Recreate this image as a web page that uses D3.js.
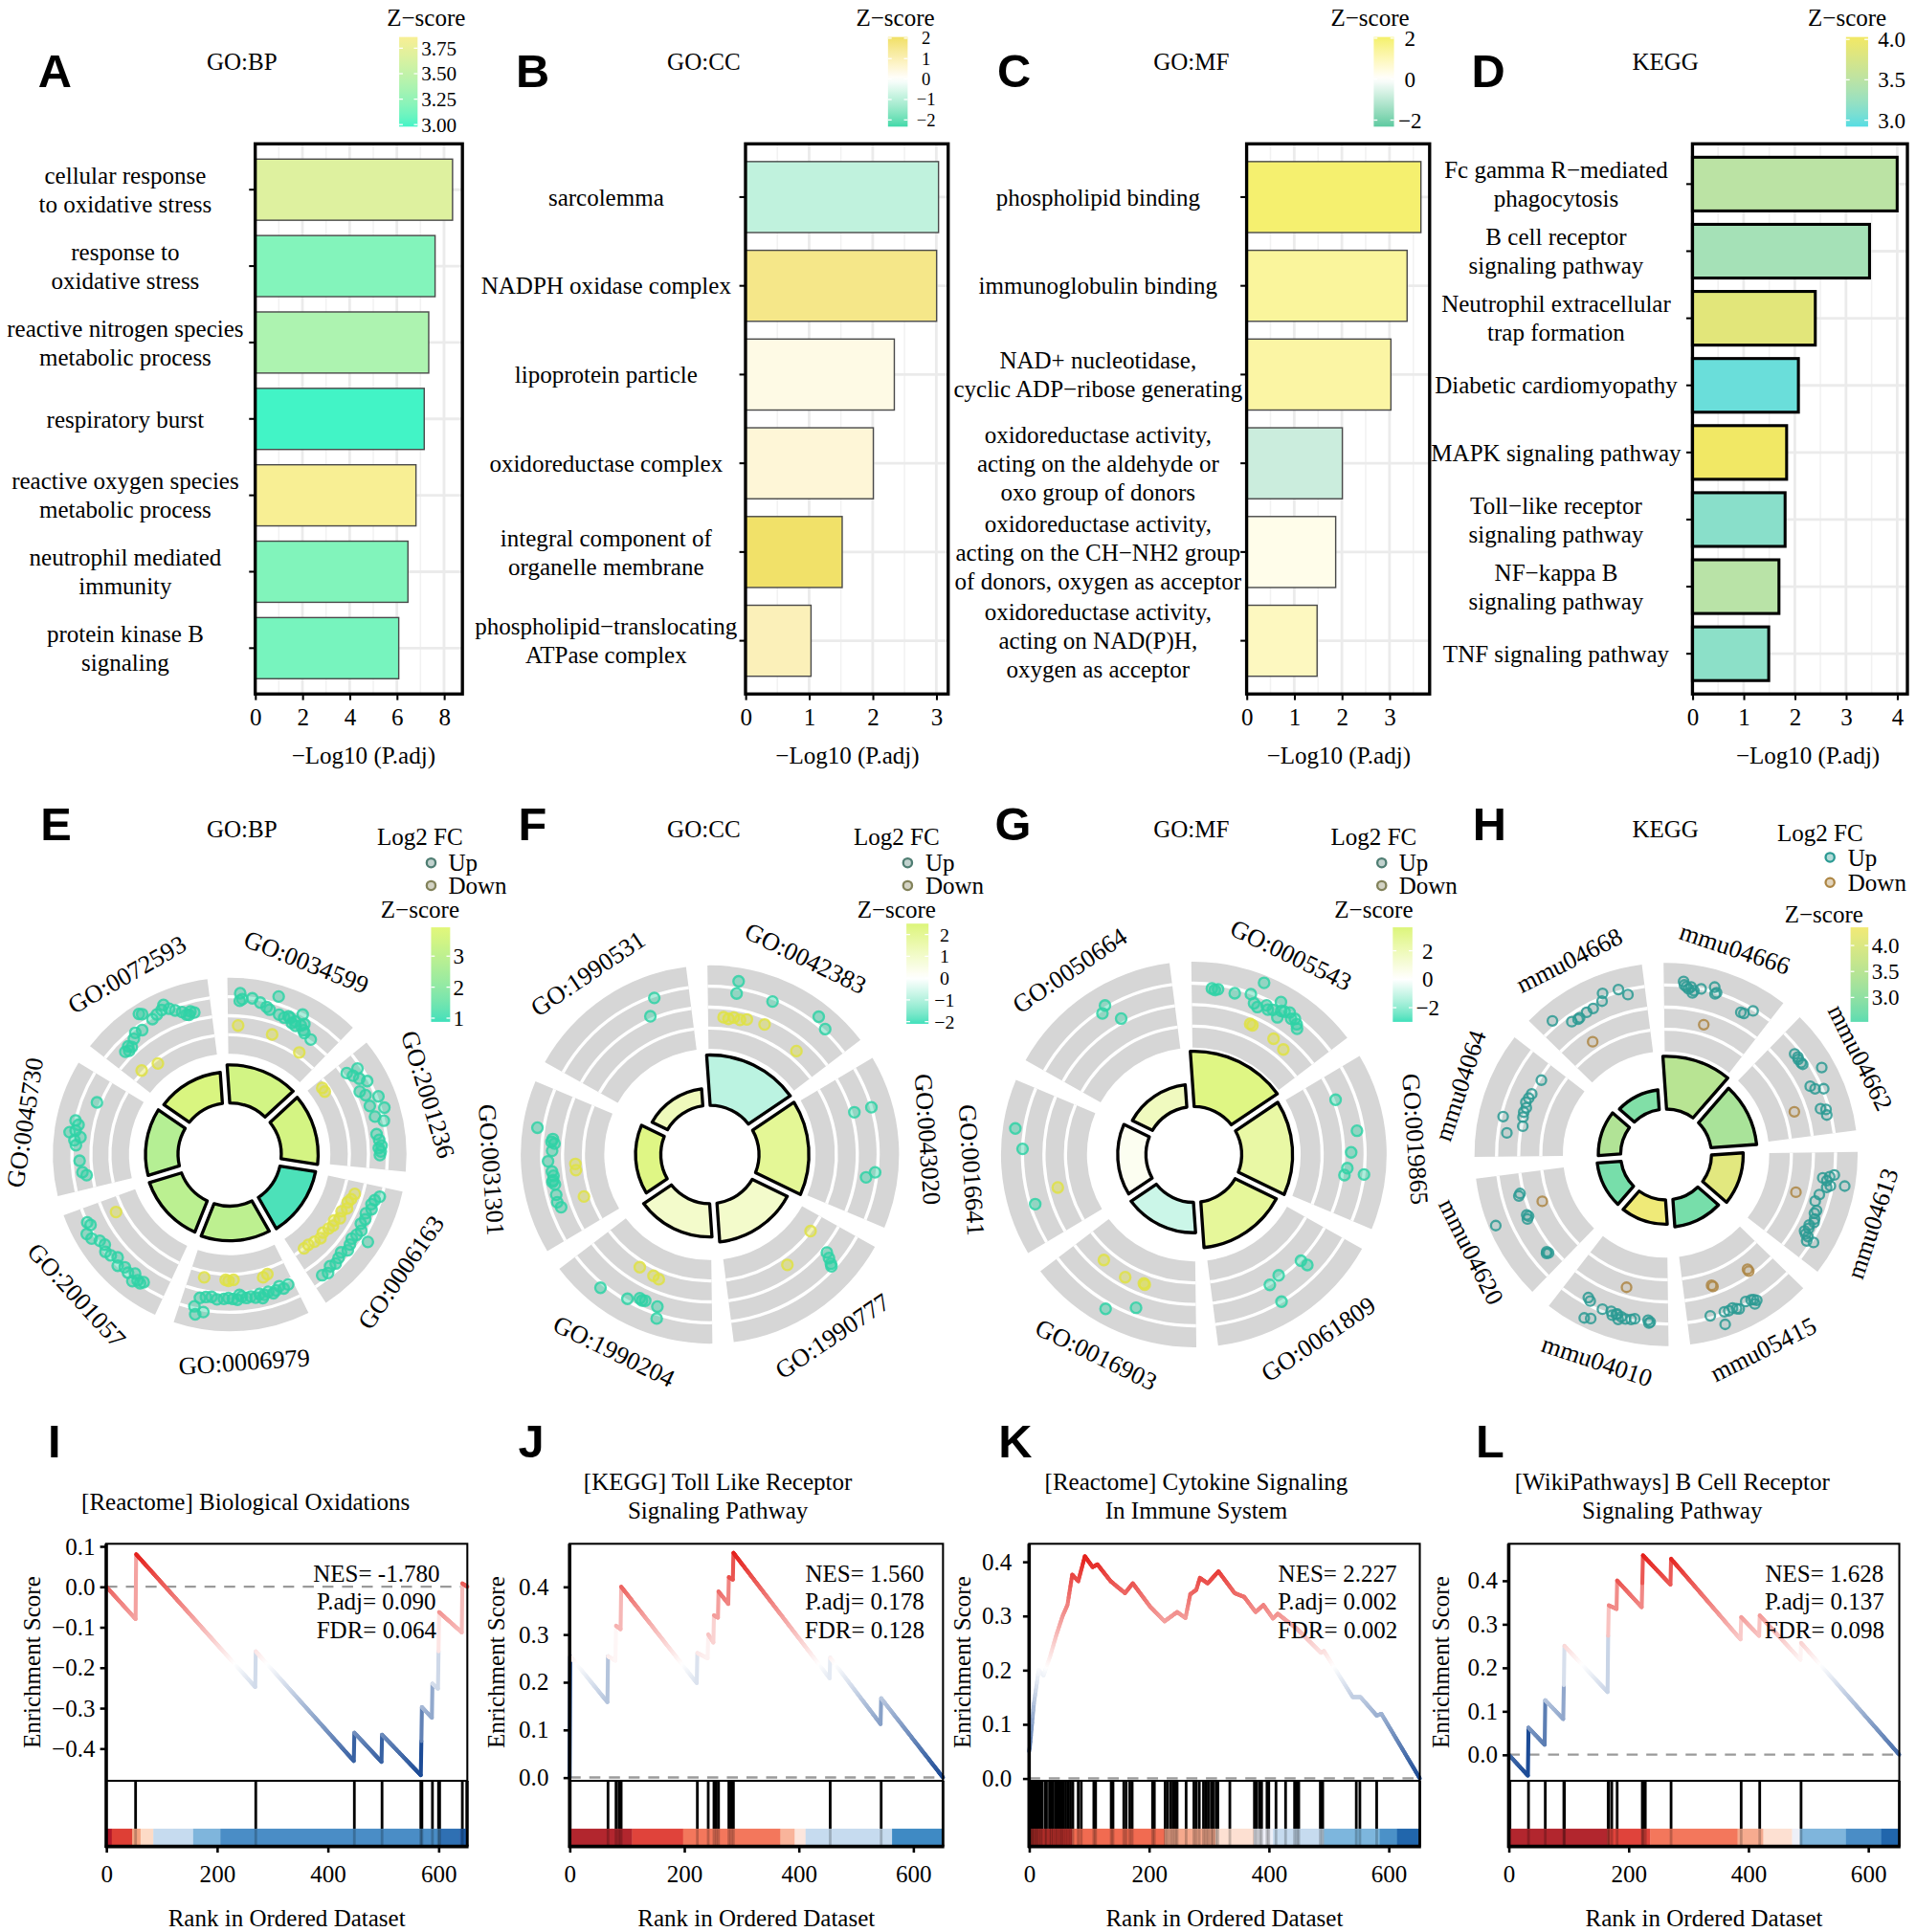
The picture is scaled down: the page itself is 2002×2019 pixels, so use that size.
<!DOCTYPE html>
<html>
<head>
<meta charset="utf-8">
<title>Enrichment overview</title>
<script src="https://cdn.jsdelivr.net/npm/d3@7"></script>
<style>
  html, body { margin: 0; padding: 0; background: #fff; }
  svg { display: block; }
  text { font-family: 'Liberation Serif', 'Times New Roman', serif; fill: #000; }
  text.letter { font-family: 'Liberation Sans', Arial, sans-serif; font-weight: bold; }
</style>
</head>
<body>
<div id="chart"></div>
<script>
'use strict';
/* globals d3 */

// ---------------- row 1: enrichment bar charts ----------------
var bpTerms = ['cellular response\nto oxidative stress', 'response to\noxidative stress',
    'reactive nitrogen species\nmetabolic process', 'respiratory burst',
    'reactive oxygen species\nmetabolic process', 'neutrophil mediated\nimmunity',
    'protein kinase B\nsignaling'];
var bpLogP = [8.36, 7.62, 7.35, 7.16, 6.81, 6.47, 6.08];
var bpZ = [3.68, 3.18, 3.38, 2.98, 3.86, 3.17, 3.13];

var ccTerms = ['sarcolemma', 'NADPH oxidase complex', 'lipoprotein particle',
    'oxidoreductase complex', 'integral component of\norganelle membrane',
    'phospholipid\u2212translocating\nATPase complex'];
var ccLogP = [3.035, 3.005, 2.34, 2.01, 1.52, 1.03];
var ccZ = [-0.9, 1.6, 0.35, 0.55, 2.0, 0.95];

var mfTerms = ['phospholipid binding', 'immunoglobulin binding',
    'NAD+ nucleotidase,\ncyclic ADP\u2212ribose generating',
    'oxidoreductase activity,\nacting on the aldehyde or\noxo group of donors',
    'oxidoreductase activity,\nacting on the CH\u2212NH2 group\nof donors, oxygen as acceptor',
    'oxidoreductase activity,\nacting on NAD(P)H,\noxygen as acceptor'];
var mfLogP = [3.66, 3.37, 3.03, 2.01, 1.87, 1.48];
var mfZ = [2.0, 1.4, 1.3, -0.8, 0.3, 0.9];

var keggTerms = ['Fc gamma R\u2212mediated\nphagocytosis', 'B cell receptor\nsignaling pathway',
    'Neutrophil extracellular\ntrap formation', 'Diabetic cardiomyopathy',
    'MAPK signaling pathway', 'Toll\u2212like receptor\nsignaling pathway',
    'NF\u2212kappa B\nsignaling pathway', 'TNF signaling pathway'];
var keggLogP = [4.0, 3.46, 2.40, 2.07, 1.84, 1.81, 1.69, 1.49];
var keggZ = [3.5, 3.33, 3.86, 3.0, 4.02, 3.15, 3.48, 3.17];

// ---------------- row 2: GO circles ----------------
var eIds = ['GO:0034599', 'GO:2001236', 'GO:0006163', 'GO:0006979', 'GO:2001057', 'GO:0045730', 'GO:0072593'];
var eLogP = [8.36, 8.1, 7.9, 7.62, 7.35, 7.16, 6.81];
var eZ = [3.5, 3.55, 1.0, 3.0, 2.95, 2.8, 3.7];
var eUp = [
    [[0.1,1.2],[0.1,0.8],[0.12,0.9],[0.2,1.0],[0.27,0.85],[0.33,0.7],[0.36,0.6],[0.4,1.4],[0.45,0.5],[0.5,0.45],[0.53,0.6],[0.58,0.35],[0.6,0.5],[0.63,1.0],[0.62,0.3],[0.66,0.45],[0.7,0.3],[0.72,0.2],[0.8,0.1],[0.55,0.55],[0.68,0.6]],
    [[0.1,0.2],[0.15,0.4],[0.2,0.6],[0.12,0.8],[0.25,0.9],[0.3,0.3],[0.35,0.5],[0.45,0.5],[0.55,0.6],[0.5,1.2],[0.6,1.0],[0.7,0.5],[0.75,0.6],[0.8,0.7],[0.82,0.55],[0.85,0.65],[0.88,0.6],[0.4,1.1]],
    [[0.08,0.9],[0.12,0.7],[0.16,0.6],[0.2,0.7],[0.25,0.5],[0.3,0.6],[0.35,0.5],[0.4,0.7],[0.45,0.6],[0.5,0.5],[0.55,0.6],[0.6,0.7],[0.65,0.5],[0.7,0.6],[0.75,0.7],[0.8,0.6],[0.85,0.8],[0.9,0.7],[0.45,1.3]],
    [[0.05,0.2],[0.1,0.3],[0.13,0.1],[0.17,0.25],[0.2,0.35],[0.24,0.2],[0.28,0.3],[0.32,0.2],[0.36,0.35],[0.4,0.25],[0.44,0.3],[0.48,0.2],[0.52,0.35],[0.56,0.3],[0.6,0.25],[0.64,0.3],[0.7,0.35],[0.75,0.25],[0.8,0.3],[0.85,0.4],[0.8,1.1],[0.86,1.3],[0.88,0.9],[0.3,0.45],[0.5,0.1]],
    [[0.2,0.8],[0.25,0.9],[0.3,0.7],[0.28,1.1],[0.35,0.9],[0.4,0.8],[0.45,1.0],[0.5,0.7],[0.55,0.9],[0.6,1.0],[0.65,0.8],[0.7,0.9],[0.75,1.2],[0.8,1.3],[0.85,0.9],[0.88,1.0],[0.22,0.95]],
    [[0.78,0.2],[0.58,1.0],[0.55,0.8],[0.5,0.9],[0.48,1.2],[0.45,0.6],[0.42,0.9],[0.38,0.8],[0.25,0.6],[0.15,0.5],[0.12,0.3]],
    [[0.15,0.4],[0.18,0.3],[0.2,0.5],[0.22,0.35],[0.28,0.6],[0.32,0.8],[0.38,0.7],[0.43,1.5],[0.45,1.4],[0.5,0.9],[0.55,1.0],[0.6,1.1],[0.63,1.3],[0.66,1.0],[0.7,0.8],[0.75,0.6],[0.78,0.4],[0.8,0.35],[0.82,0.5],[0.85,0.4]]
];
var eDown = [
    [[0.1,-0.5],[0.45,-0.6],[0.78,-0.8]],
    [[0.08,-1.3],[0.13,-1.3]],
    [[0.12,-0.4],[0.18,-0.5],[0.22,-0.6],[0.28,-0.5],[0.33,-0.7],[0.4,-0.6],[0.45,-0.8],[0.5,-0.7],[0.55,-0.8],[0.62,-0.9],[0.68,-0.8],[0.75,-0.9],[0.82,-1.0],[0.88,-1.0]],
    [[0.2,-0.7],[0.25,-0.6],[0.55,-0.7],[0.6,-0.65],[0.63,-0.7],[0.85,-0.7]],
    [[0.85,-0.6]],
    [],
    [[0.13,-0.9],[0.31,-1.2]]
];

var fIds = ['GO:0042383', 'GO:0043020', 'GO:1990777', 'GO:1990204', 'GO:0031301', 'GO:1990531'];
var fLogP = [3.035, 3.005, 2.34, 2.01, 1.52, 1.03];
var fZ = [-0.9, 2.0, 1.0, 1.0, 2.3, 1.3];
var fUp = [
    [[0.19,1.35],[0.19,0.76],[0.43,0.86],[0.73,1.35],[0.81,1.1]],
    [[0.27,0.15],[0.27,1.0],[0.73,0.5],[0.69,0.9]],
    [[0.2,0.25],[0.22,0.5],[0.24,0.75],[0.25,0.85]],
    [[0.75,1.2],[0.57,0.9],[0.5,0.6],[0.48,0.65],[0.46,0.6],[0.37,0.65],[0.35,1.2]],
    [[0.74,1.3],[0.68,0.5],[0.66,0.55],[0.65,0.4],[0.6,0.5],[0.53,0.7],[0.46,0.55],[0.43,0.5],[0.4,0.55],[0.37,0.5],[0.3,0.55],[0.25,0.6],[0.21,0.5],[0.39,0.6]],
    [[0.77,0.9],[0.7,0.15]]
];
var fDown = [
    [[0.12,-0.45],[0.16,-0.5],[0.2,-0.4],[0.25,-0.45],[0.3,-0.35],[0.44,-0.3],[0.76,-0.6]],
    [],
    [[0.15,-1.0],[0.48,-0.6]],
    [[0.61,-0.7],[0.48,-0.65],[0.43,-0.6]],
    [[0.5,-0.6],[0.45,-0.6],[0.23,-0.7]],
    []
];

var gIds = ['GO:0005543', 'GO:0019865', 'GO:0061809', 'GO:0016903', 'GO:0016641', 'GO:0050664'];
var gLogP = [3.66, 3.37, 3.03, 2.01, 1.87, 1.48];
var gZ = [3.4, 2.5, 2.8, -1.0, 0.4, 1.8];
var gUp = [
    [[0.13,0.8],[0.15,0.75],[0.17,0.8],[0.28,0.77],[0.43,1.66],[0.38,0.95],[0.42,0.6],[0.45,0.5],[0.5,0.75],[0.52,0.6],[0.57,1.2],[0.6,0.85],[0.62,0.9],[0.65,1.0],[0.68,0.8],[0.7,0.9],[0.73,0.75],[0.75,0.6],[0.55,0.7],[0.6,0.5]],
    [[0.18,0.1],[0.42,0.7],[0.56,0.35],[0.67,0.2],[0.72,0.1],[0.7,1.0]],
    [[0.29,0.05],[0.28,0.4],[0.48,-0.1],[0.57,0.05],[0.56,1.0]],
    [[0.57,1.3],[0.4,0.65]],
    [[0.73,1.42],[0.61,1.0],[0.25,0.76]],
    [[0.56,1.1],[0.52,0.85],[0.61,0.2]]
];
var gDown = [
    [[0.45,-0.35],[0.47,-0.37],[0.66,-0.43],[0.77,-0.55]],
    [],
    [],
    [[0.77,-0.52],[0.56,-0.43],[0.41,-0.54],[0.4,-0.5]],
    [[0.32,-0.46]],
    []
];

var hIds = ['mmu04666', 'mmu04662', 'mmu04613', 'mmu05415', 'mmu04010', 'mmu04620', 'mmu04064', 'mmu04668'];
var hLogP = [4.0, 3.46, 2.40, 2.07, 1.84, 1.81, 1.69, 1.49];
var hZ = [3.5, 3.3, 4.1, 2.75, 4.3, 2.75, 3.4, 2.85];
var hUp = [
    [[0.17,1.2],[0.18,1.05],[0.2,0.98],[0.22,0.9],[0.24,1.0],[0.26,0.74],[0.27,0.85],[0.33,0.99],[0.44,1.22],[0.46,0.93],[0.47,1.0],[0.74,0.6],[0.77,0.62],[0.83,0.93]],
    [[0.2,0.72],[0.24,0.75],[0.26,0.7],[0.3,0.72],[0.32,0.74],[0.43,1.4],[0.53,0.55],[0.57,0.7],[0.6,1.06],[0.76,0.62],[0.78,0.85],[0.83,0.82]],
    [[0.2,1.0],[0.22,0.8],[0.24,0.5],[0.26,0.7],[0.28,1.54],[0.3,0.9],[0.32,0.75],[0.4,0.5],[0.47,0.4],[0.55,0.6],[0.58,0.55],[0.63,0.66],[0.66,0.7],[0.7,0.55],[0.73,0.6],[0.77,0.49],[0.79,0.6],[0.82,1.1],[0.84,0.8],[0.8,0.75]],
    [[0.36,1.1],[0.38,1.0],[0.39,1.2],[0.4,0.95],[0.45,0.9],[0.53,1.06],[0.58,0.9],[0.62,0.95],[0.66,0.92],[0.69,1.47],[0.79,0.9],[0.55,1.0]],
    [[0.76,0.7],[0.73,0.8],[0.71,1.6],[0.66,1.5],[0.6,0.9],[0.52,0.85],[0.5,1.0],[0.47,0.9],[0.46,0.88],[0.44,1.1],[0.42,0.95],[0.38,1.0],[0.33,0.96],[0.3,0.9],[0.18,0.87],[0.16,0.95],[0.17,1.0]],
    [[0.8,0.17],[0.78,0.25],[0.6,1.68],[0.58,0.2],[0.56,0.15],[0.54,0.25],[0.15,0.27],[0.17,0.3],[0.16,0.35]],
    [[0.82,-0.1],[0.65,0.0],[0.6,0.05],[0.55,0.1],[0.5,0.0],[0.45,0.05],[0.36,0.9],[0.22,0.6],[0.31,-0.06],[0.4,0.02]],
    [[0.14,1.27],[0.27,0.7],[0.33,0.63],[0.35,0.65],[0.43,0.7],[0.5,0.72],[0.63,1.17],[0.6,0.85],[0.77,1.1],[0.84,0.77]]
];
var hDown = [
    [[0.44,-0.55]],
    [[0.71,-0.55]],
    [[0.44,-0.55]],
    [[0.27,-0.2],[0.27,-0.3],[0.68,-0.33],[0.69,-0.4]],
    [[0.45,-0.4]],
    [[0.65,-0.68]],
    [],
    [[0.33,-0.58]]
];

// ---------------- row 3: GSEA running scores ----------------
var iTitle = ['[Reactome] Biological Oxidations'];
var iStats = ['NES= -1.780', 'P.adj= 0.090', 'FDR= 0.064'];
var iCurve = [[0,0],[53,-0.08],[54,0.08],[269,-0.248],[270,-0.16],[447,-0.431],[448,-0.361],[497,-0.433],[498,-0.366],[568,-0.466],[569,-0.382],[570,-0.298],[588,-0.324],[589,-0.24],[599,-0.252],[600,-0.16],[601,-0.063],[642,-0.113],[643,0.008],[652,0.0]];
var iHits = [53, 270, 448, 498, 568, 570, 589, 600, 602, 643, 651];
var iBarBreaks = [0, 10, 47, 62, 85, 157, 206, 603, 638, 652];
var iBarColors = ['#b2182b', '#de3f35', '#f4a582', '#fddbc7', '#c6dbef', '#7fb5dc', '#4a8dc6', '#2f70b3', '#1d5aa5'];

var jTitle = ['[KEGG] Toll Like Receptor', 'Signaling Pathway'];
var jStats = ['NES= 1.560', 'P.adj= 0.178', 'FDR= 0.128'];
var jCurve = [[0,0],[1,0.254],[66,0.158],[67,0.254],[80,0.245],[81,0.318],[89,0.311],[90,0.40],[222,0.198],[223,0.261],[241,0.25],[242,0.30],[251,0.283],[252,0.34],[259,0.335],[260,0.39],[277,0.364],[278,0.42],[285,0.415],[286,0.471],[454,0.208],[455,0.251],[543,0.112],[544,0.166],[652,0]];
var jHits = [1, 67, 81, 86, 90, 223, 242, 252, 256, 260, 278, 282, 286, 455, 544];
var jBarBreaks = [0, 109, 198, 368, 393, 412, 563, 652];
var jBarColors = ['#b2262e', '#e0433b', '#f3775c', '#f9b49b', '#fce6dd', '#c6dbef', '#3f8ac4'];

var kTitle = ['[Reactome] Cytokine Signaling', 'In Immune System'];
var kStats = ['NES= 2.227', 'P.adj= 0.002', 'FDR= 0.002'];
var kCurve = [[0,0.05],[1,0.056],[8,0.138],[16,0.2],[24,0.19],[35,0.225],[45,0.263],[56,0.30],[64,0.32],[72,0.376],[82,0.364],[93,0.41],[106,0.39],[114,0.395],[136,0.364],[160,0.342],[173,0.36],[202,0.317],[226,0.29],[247,0.307],[261,0.296],[269,0.34],[279,0.348],[285,0.37],[298,0.36],[316,0.382],[343,0.342],[359,0.335],[378,0.307],[391,0.32],[407,0.295],[415,0.304],[447,0.276],[487,0.232],[492,0.235],[540,0.15],[553,0.15],[580,0.116],[588,0.119],[652,0]];
var kHits = [2,4,6,8,11,13,16,19,22,27,29,34,37,40,44,47,51,54,57,61,65,69,73,82,87,108,111,137,140,158,162,168,172,206,209,227,231,236,240,244,247,262,275,279,284,291,295,299,304,307,312,315,335,376,380,385,388,397,400,412,428,443,447,450,486,490,546,552,580];
var kBarBreaks = [0, 72, 226, 311, 375, 407, 492, 585, 614, 652];
var kBarColors = ['#cf3530', '#f16b51', '#f5a98d', '#fde0d2', '#eef0f8', '#c6dbef', '#7db6dd', '#4b91c8', '#2166ac'];

var lTitle = ['[WikiPathways] B Cell Receptor', 'Signaling Pathway'];
var lStats = ['NES= 1.628', 'P.adj= 0.137', 'FDR= 0.098'];
var lCurve = [[0,0],[32,-0.048],[33,0.062],[60,0.023],[61,0.125],[91,0.082],[92,0.16],[93,0.25],[165,0.144],[166,0.273],[167,0.343],[180,0.335],[181,0.40],[222,0.339],[223,0.394],[224,0.458],[270,0.391],[271,0.45],[387,0.265],[388,0.316],[418,0.273],[419,0.32],[487,0.218],[488,0.257],[652,0]];
var lHits = [2, 33, 61, 92, 93, 166, 167, 172, 181, 223, 224, 228, 271, 388, 419, 488];
var lBarBreaks = [0, 164, 236, 382, 425, 473, 486, 563, 622, 652];
var lBarColors = ['#b2262e', '#e0433b', '#f3775c', '#f6ab8f', '#fde0d2', '#eef0f8', '#7fb5dc', '#4a8dc6', '#2166ac'];

var gseaRankMax = 652;
var gseaRankTicks = [0, 200, 400, 600];

(function(){

var FS = 19.5;
var svg = d3.select('#chart').append('svg')
    .attr('width', 2002).attr('height', 2019)
    .attr('viewBox', '0 0 1560 1573');
var defs = svg.append('defs');
svg.append('rect').attr('width', 1560).attr('height', 1573).attr('fill', '#fff');

/**
 * Centered text block, one tspan per line
 */
function multiline(g, str, x, yc, lh){
    var lines = str.split('\n');
    var t = g.append('text').attr('text-anchor', 'middle').attr('font-size', FS);
    lines.forEach(function(l, i){
        t.append('tspan').attr('x', x)
            .attr('y', yc + (i - (lines.length - 1) / 2) * lh)
            .attr('dy', '0.35em').text(l);
    });
    return t;
}

function letter(txt, x, y){
    svg.append('text').attr('class', 'letter').attr('x', x).attr('y', y)
        .attr('font-size', 38).text(txt);
}

/**
 * Vertical colorbar legend with white tick marks
 */
function colorbar(o){
    var grad = defs.append('linearGradient').attr('id', o.id)
        .attr('x1', 0).attr('y1', 1).attr('x2', 0).attr('y2', 0);
    d3.range(0, 1.0001, 0.05).forEach(function(f){
        grad.append('stop').attr('offset', f)
            .attr('stop-color', o.color(o.domain[0] + f * (o.domain[1] - o.domain[0])));
    });
    svg.append('rect').attr('x', o.x).attr('y', o.y0).attr('width', o.w)
        .attr('height', o.y1 - o.y0).attr('fill', 'url(#' + o.id + ')');
    var s = d3.scaleLinear().domain(o.domain).range([o.y1, o.y0]);
    o.ticks.forEach(function(t){
        svg.append('line').attr('x1', o.x).attr('x2', o.x + 3).attr('y1', s(t)).attr('y2', s(t))
            .attr('stroke', '#fff').attr('stroke-width', 1);
        svg.append('line').attr('x1', o.x + o.w - 3).attr('x2', o.x + o.w).attr('y1', s(t)).attr('y2', s(t))
            .attr('stroke', '#fff').attr('stroke-width', 1);
        svg.append('text').attr('x', o.labelX).attr('y', s(t)).attr('dy', '0.35em')
            .attr('text-anchor', o.anchor).attr('font-size', o.fs || 18).text(o.fmt(t));
    });
    svg.append('text').attr('x', o.titleX).attr('y', o.titleY).attr('dy', '0.35em')
        .attr('text-anchor', 'middle').attr('font-size', FS).text('Z\u2212score');
}

function makeColor(domain, colors){
    return d3.scaleLinear().domain(domain).range(colors).interpolate(d3.interpolateLab).clamp(true);
}

var fmtInt = d3.format('d');

// ============ bar panels ============
var BAR_TOP = 117, BAR_BOTTOM = 565;

function drawBarPanel(o){
    var g = svg.append('g');
    var xMax = d3.max(o.values) * 1.05;
    var x = d3.scaleLinear().domain([0, xMax]).range([o.x0, o.x1]);
    var y = d3.scaleBand().domain(o.terms).range([BAR_TOP, BAR_BOTTOM])
        .paddingInner(0.2).paddingOuter(0.2);
    var step = o.ticks[1] - o.ticks[0];
    var minor = o.ticks.map(function(t){ return t + step / 2; })
        .filter(function(t){ return t < xMax; });

    g.selectAll('line.minor').data(minor).enter().append('line')
        .attr('x1', x).attr('x2', x).attr('y1', BAR_TOP).attr('y2', BAR_BOTTOM)
        .attr('stroke', '#f2f2f2').attr('stroke-width', 1.2);
    g.selectAll('line.major').data(o.ticks).enter().append('line')
        .attr('x1', x).attr('x2', x).attr('y1', BAR_TOP).attr('y2', BAR_BOTTOM)
        .attr('stroke', '#ebebeb').attr('stroke-width', 2.2);
    g.selectAll('line.hgrid').data(o.terms).enter().append('line')
        .attr('x1', o.x0).attr('x2', o.x1)
        .attr('y1', function(d){ return y(d) + y.bandwidth() / 2; })
        .attr('y2', function(d){ return y(d) + y.bandwidth() / 2; })
        .attr('stroke', '#ebebeb').attr('stroke-width', 2.2);

    g.selectAll('rect.bar').data(o.terms).enter().append('rect')
        .attr('x', x(0)).attr('y', function(d){ return y(d); })
        .attr('width', function(d, i){ return x(o.values[i]) - x(0); })
        .attr('height', y.bandwidth())
        .attr('fill', function(d, i){ return o.color(o.z[i]); })
        .attr('stroke', o.barStroke).attr('stroke-width', o.barStrokeW);

    g.append('rect').attr('x', o.x0).attr('y', BAR_TOP)
        .attr('width', o.x1 - o.x0).attr('height', BAR_BOTTOM - BAR_TOP)
        .attr('fill', 'none').attr('stroke', '#000').attr('stroke-width', 2.6);

    // y ticks and term labels
    o.terms.forEach(function(d){
        var yc = y(d) + y.bandwidth() / 2;
        g.append('line').attr('x1', o.x0 - 5).attr('x2', o.x0).attr('y1', yc).attr('y2', yc)
            .attr('stroke', '#000').attr('stroke-width', 1.6);
        multiline(g, d, o.labelX, yc, 23.4);
    });

    var ax = g.append('g').attr('transform', 'translate(0,' + BAR_BOTTOM + ')')
        .call(d3.axisBottom(x).tickValues(o.ticks).tickSize(5).tickPadding(7).tickFormat(fmtInt));
    ax.select('.domain').remove();
    ax.attr('font-family', null).attr('font-size', null);
    ax.selectAll('line').attr('stroke-width', 1.6);
    ax.selectAll('text').attr('font-size', FS);

    g.append('text').attr('x', o.axisTitleX).attr('y', 622).attr('text-anchor', 'middle')
        .attr('font-size', FS).text('\u2212Log10 (P.adj)');
    g.append('text').attr('x', o.titleX).attr('y', 57).attr('text-anchor', 'middle')
        .attr('font-size', FS).text(o.title);
    letter(o.letter, o.letterX, 71);
    colorbar(o.legend);
}

var aColor = makeColor([2.98, 3.86], ['#42f4c6', '#f8ef94']);
drawBarPanel({
    terms: bpTerms, values: bpLogP, z: bpZ, color: aColor,
    x0: 207.8, x1: 376.5, ticks: [0, 2, 4, 6, 8], labelX: 102,
    barStroke: '#4a4a4a', barStrokeW: 1.1,
    axisTitleX: 296, titleX: 197, title: 'GO:BP', letter: 'A', letterX: 31,
    legend: { id: 'cbA', color: aColor, domain: [2.98, 3.86], x: 325, w: 15, y0: 30, y1: 103,
        ticks: [3.0, 3.25, 3.5, 3.75], fmt: d3.format('.2f'), labelX: 343, anchor: 'start',
        titleX: 347, titleY: 14, fs: 16.5 }
});

var bColor = makeColor([-2.33, 0, 2.06], ['#3fd9a9', '#ffffff', '#f0e064']);
drawBarPanel({
    terms: ccTerms, values: ccLogP, z: ccZ, color: bColor,
    x0: 607, x1: 772, ticks: [0, 1, 2, 3], labelX: 493.5,
    barStroke: '#4a4a4a', barStrokeW: 1.1,
    axisTitleX: 690, titleX: 573, title: 'GO:CC', letter: 'B', letterX: 420,
    legend: { id: 'cbB', color: bColor, domain: [-2.33, 2.06], x: 723, w: 16, y0: 30, y1: 103,
        ticks: [-2, -1, 0, 1, 2], fmt: d3.format('d'), labelX: 754, anchor: 'middle',
        titleX: 729, titleY: 14, fs: 14.5 }
});

var cColor = makeColor([-2.32, 0, 2.06], ['#5ccaa0', '#ffffff', '#f4f06a']);
drawBarPanel({
    terms: mfTerms, values: mfLogP, z: mfZ, color: cColor,
    x0: 1015, x1: 1164, ticks: [0, 1, 2, 3], labelX: 894,
    barStroke: '#4a4a4a', barStrokeW: 1.1,
    axisTitleX: 1090, titleX: 970, title: 'GO:MF', letter: 'C', letterX: 812,
    legend: { id: 'cbC', color: cColor, domain: [-2.32, 2.06], x: 1118.5, w: 16.5, y0: 30, y1: 103,
        ticks: [-2, 0, 2], fmt: d3.format('d'), labelX: 1148, anchor: 'middle',
        titleX: 1115.5, titleY: 14 }
});

var dColor = makeColor([2.92, 4.03], ['#54dde3', '#f2e864']);
drawBarPanel({
    terms: keggTerms, values: keggLogP, z: keggZ, color: dColor,
    x0: 1378, x1: 1553, ticks: [0, 1, 2, 3, 4], labelX: 1267,
    barStroke: '#000', barStrokeW: 2.4,
    axisTitleX: 1472, titleX: 1356, title: 'KEGG', letter: 'D', letterX: 1198,
    legend: { id: 'cbD', color: dColor, domain: [2.92, 4.03], x: 1503, w: 18, y0: 30, y1: 103,
        ticks: [3.0, 3.5, 4.0], fmt: d3.format('.1f'), labelX: 1529, anchor: 'start',
        titleX: 1504, titleY: 14 }
});

// ============ circle panels ============
var CY = 940;
var DEG = Math.PI / 180;

function drawCirclePanel(o){
    var g = svg.append('g').attr('transform', 'translate(' + o.cx + ',' + CY + ')');
    var n = o.ids.length, step = 2 * Math.PI / n, off = -4 * DEG;
    var gapT = 6.5 * DEG;
    var h = d3.scaleLinear().domain([0, d3.max(o.heights)]).range([o.rIn, o.rBarMax]);
    var r = d3.scaleLinear().domain([-2, 2]).range([o.trackIn, o.trackOut]);
    var arc = d3.arc();

    o.ids.forEach(function(id, i){
        var a0 = off + i * step, a1 = a0 + step;
        var t0 = a0 + gapT / 2, t1 = a1 - gapT / 2;
        g.append('path').attr('d', arc({ innerRadius: o.trackIn, outerRadius: o.trackOut,
            startAngle: t0, endAngle: t1 })).attr('fill', '#d6d6d6');
        [-1, 0, 1].forEach(function(v){
            g.append('path').attr('d', arc({ innerRadius: r(v) - 1.3, outerRadius: r(v) + 1.3,
                startAngle: t0, endAngle: t1 })).attr('fill', '#fff');
        });
        var pts = o.down[i].map(function(p){ return [p[0], p[1], 'down']; })
            .concat(o.up[i].map(function(p){ return [p[0], p[1], 'up']; }));
        pts.forEach(function(p){
            var a = t0 + p[0] * (t1 - t0), rr = r(p[1]);
            var c = p[2] === 'up' ? o.upColor : o.downColor;
            g.append('circle').attr('cx', rr * Math.sin(a)).attr('cy', -rr * Math.cos(a))
                .attr('r', o.ptR).attr('fill', c).attr('fill-opacity', o.ptFill)
                .attr('stroke', c).attr('stroke-opacity', 0.85).attr('stroke-width', 1.8);
        });
    });

    o.ids.forEach(function(id, i){
        var a0 = off + i * step, a1 = a0 + step;
        g.append('path').attr('d', d3.arc().padAngle(0.1).padRadius(60)({
            innerRadius: o.rIn, outerRadius: h(o.heights[i]), startAngle: a0, endAngle: a1 }))
            .attr('fill', o.color(o.z[i])).attr('stroke', '#000').attr('stroke-width', 2.6)
            .attr('stroke-linejoin', 'round');

        var mid = a0 + step / 2;
        var deg = ((mid / DEG) % 360 + 360) % 360;
        var rot = (deg > 90 && deg < 270) ? deg - 180 : deg;
        g.append('text')
            .attr('transform', 'translate(' + (o.labelR * Math.sin(mid)) + ',' +
                (-o.labelR * Math.cos(mid)) + ') rotate(' + rot + ')')
            .attr('text-anchor', 'middle').attr('dy', '0.35em').attr('font-size', 20.5)
            .text(id);
    });

    svg.append('text').attr('x', o.titleX).attr('y', 682).attr('text-anchor', 'middle')
        .attr('font-size', FS).text(o.title);
    letter(o.letter, o.letterX, 684);

    // Log2 FC legend
    var L = o.lfcLegend;
    svg.append('text').attr('x', L.titleX).attr('y', L.titleY).attr('dy', '0.35em')
        .attr('text-anchor', 'middle').attr('font-size', FS).text('Log2 FC');
    [['Up', L.upY, L.upColor], ['Down', L.downY, L.downColor]].forEach(function(e){
        svg.append('circle').attr('cx', L.pointX).attr('cy', e[1]).attr('r', 3.6)
            .attr('fill', e[2]).attr('fill-opacity', 0.35).attr('stroke', e[2]).attr('stroke-width', 1.8);
        svg.append('text').attr('x', L.textX).attr('y', e[1]).attr('dy', '0.35em')
            .attr('font-size', FS).text(e[0]);
    });
    colorbar(o.legend);
}

var teal = '#2fd2a6', yellowPt = '#dfe244';
var eColor = makeColor([0.88, 3.93], ['#3fe0bb', '#e2f77a']);
drawCirclePanel({
    ids: eIds, heights: eLogP, z: eZ, up: eUp, down: eDown, color: eColor,
    cx: 187, rIn: 42, rBarMax: 73, trackIn: 82, trackOut: 144, labelR: 169,
    upColor: teal, downColor: yellowPt, ptR: 4.3, ptFill: 0.4,
    title: 'GO:BP', titleX: 197, letter: 'E', letterX: 33,
    lfcLegend: { titleX: 342, titleY: 681, pointX: 351, textX: 365, upY: 702.5, downY: 721,
        upColor: '#4f7d72', downColor: '#82825a' },
    legend: { id: 'cbE', color: eColor, domain: [0.88, 3.93], x: 351, w: 15.5, y0: 755, y1: 832,
        ticks: [1, 2, 3], fmt: fmtInt, labelX: 369, anchor: 'start', titleX: 342, titleY: 740 }
});

var fColor = makeColor([-2.1, 0, 2.5], ['#3fe0bb', '#ffffff', '#dcf57a']);
drawCirclePanel({
    ids: fIds, heights: fLogP, z: fZ, up: fUp, down: fDown, color: fColor,
    cx: 578, rIn: 40, rBarMax: 81, trackIn: 86, trackOut: 154, labelR: 178,
    upColor: teal, downColor: yellowPt, ptR: 4.3, ptFill: 0.4,
    title: 'GO:CC', titleX: 573, letter: 'F', letterX: 422,
    lfcLegend: { titleX: 730, titleY: 681, pointX: 739, textX: 753.5, upY: 702.5, downY: 721,
        upColor: '#4f7d72', downColor: '#82825a' },
    legend: { id: 'cbF', color: fColor, domain: [-2.1, 2.5], x: 738, w: 18, y0: 752, y1: 833.6,
        ticks: [-2, -1, 0, 1, 2], fmt: fmtInt, labelX: 769, anchor: 'middle', titleX: 730, titleY: 740,
        fs: 15.5 }
});

var gColor = makeColor([-3.0, 0, 3.65], ['#3fe0bb', '#ffffff', '#dcf57a']);
drawCirclePanel({
    ids: gIds, heights: gLogP, z: gZ, up: gUp, down: gDown, color: gColor,
    cx: 972, rIn: 39, rBarMax: 84, trackIn: 87, trackOut: 157, labelR: 181,
    upColor: teal, downColor: yellowPt, ptR: 4.3, ptFill: 0.4,
    title: 'GO:MF', titleX: 970, letter: 'G', letterX: 810,
    lfcLegend: { titleX: 1118.5, titleY: 681, pointX: 1125, textX: 1139, upY: 702.5, downY: 721,
        upColor: '#4f7d72', downColor: '#82825a' },
    legend: { id: 'cbG', color: gColor, domain: [-3.0, 3.65], x: 1134, w: 16, y0: 755, y1: 832,
        ticks: [-2, 0, 2], fmt: fmtInt, labelX: 1162.5, anchor: 'middle', titleX: 1118.5, titleY: 740 }
});

var hColor = makeColor([2.53, 4.35], ['#5cdcb1', '#f2ea76']);
drawCirclePanel({
    ids: hIds, heights: hLogP, z: hZ, up: hUp, down: hDown, color: hColor,
    cx: 1356.5, rIn: 37, rBarMax: 80, trackIn: 84, trackOut: 156, labelR: 177,
    upColor: '#2b9a93', downColor: '#ad8644', ptR: 3.9, ptFill: 0.1,
    title: 'KEGG', titleX: 1356, letter: 'H', letterX: 1199,
    lfcLegend: { titleX: 1482, titleY: 678, pointX: 1490, textX: 1504.5, upY: 698, downY: 718.5,
        upColor: '#2b9a93', downColor: '#ad8644' },
    legend: { id: 'cbH', color: hColor, domain: [2.53, 4.35], x: 1506.7, w: 14.5, y0: 755, y1: 832,
        ticks: [3.0, 3.5, 4.0], fmt: d3.format('.1f'), labelX: 1524, anchor: 'start', titleX: 1485, titleY: 744 }
});

// ============ GSEA panels ============
var G_TOP = 1257, G_MID = 1450, CB_TOP = 1489, CB_BOT = 1503, G_BOT = 1503.5;
var BLUE = '#1c4b96', RED = '#e41f1a';

function drawGseaPanel(o){
    var g = svg.append('g');
    var x = d3.scaleLinear().domain([0, gseaRankMax]).range([o.x0, o.x1]);
    var y = d3.scaleLinear().domain(o.esDomain).range([G_MID, G_TOP]);
    var ext = d3.extent(o.curve, function(d){ return d[1]; });
    var col = d3.scaleLinear().domain([ext[0], (ext[0] + ext[1]) / 2, ext[1]])
        .range([BLUE, '#ffffff', RED]).interpolate(d3.interpolateRgb);

    // zero line
    g.append('line').attr('x1', o.x0).attr('x2', o.x1).attr('y1', y(0)).attr('y2', y(0))
        .attr('stroke', '#9a9a9a').attr('stroke-width', 1.8).attr('stroke-dasharray', '9,7');

    // running score: one piece per rank step, each coloured by the score where it starts
    var pieces = [];
    for (var i = 1; i < o.curve.length; i++){
        var p = o.curve[i - 1], q = o.curve[i];
        var m = Math.max(1, Math.round(q[0] - p[0]));
        for (var k = 0; k < m; k++){
            var f0 = k / m, f1 = (k + 1) / m;
            pieces.push({
                r0: p[0] + (q[0] - p[0]) * f0, e0: p[1] + (q[1] - p[1]) * f0,
                r1: p[0] + (q[0] - p[0]) * f1, e1: p[1] + (q[1] - p[1]) * f1
            });
        }
    }
    g.selectAll('line.es').data(pieces).enter().append('line')
        .attr('x1', function(d){ return x(d.r0); }).attr('y1', function(d){ return y(d.e0); })
        .attr('x2', function(d){ return x(d.r1); }).attr('y2', function(d){ return y(d.e1); })
        .attr('stroke', function(d){ return col(d.e0); })
        .attr('stroke-width', 3.2).attr('stroke-linecap', 'round');

    // ranked-list colour bar
    g.selectAll('rect.cb').data(o.barColors).enter().append('rect')
        .attr('x', function(d, i){ return x(o.barBreaks[i]); })
        .attr('width', function(d, i){ return x(o.barBreaks[i + 1]) - x(o.barBreaks[i]) + 0.3; })
        .attr('y', CB_TOP).attr('height', CB_BOT - CB_TOP).attr('fill', function(d){ return d; });

    // hit rug
    g.selectAll('line.hit').data(o.hits).enter().append('line')
        .attr('x1', x).attr('x2', x).attr('y1', G_MID).attr('y2', CB_TOP)
        .attr('stroke', '#000').attr('stroke-width', 2.2);
    g.selectAll('line.hit2').data(o.hits).enter().append('line')
        .attr('x1', x).attr('x2', x).attr('y1', CB_TOP).attr('y2', CB_BOT)
        .attr('stroke', '#000').attr('stroke-opacity', 0.22).attr('stroke-width', 2.2);

    // frames
    g.append('rect').attr('x', o.x0).attr('y', G_TOP).attr('width', o.x1 - o.x0)
        .attr('height', G_MID - G_TOP).attr('fill', 'none').attr('stroke', '#000').attr('stroke-width', 1.6);
    g.append('line').attr('x1', o.x1).attr('x2', o.x1).attr('y1', G_MID).attr('y2', G_BOT)
        .attr('stroke', '#000').attr('stroke-width', 2.2);
    g.append('line').attr('x1', o.x0).attr('x2', o.x0).attr('y1', G_TOP).attr('y2', G_BOT + 1)
        .attr('stroke', '#000').attr('stroke-width', 2.8);
    g.append('line').attr('x1', o.x0 - 1).attr('x2', o.x1 + 1).attr('y1', G_BOT).attr('y2', G_BOT)
        .attr('stroke', '#000').attr('stroke-width', 2.8);

    var ay = g.append('g').attr('transform', 'translate(' + o.x0 + ',0)')
        .call(d3.axisLeft(y).tickValues(o.esTicks).tickSize(5).tickPadding(o.tickPad)
            .tickFormat(d3.format('.1f')));
    ay.select('.domain').remove();
    ay.attr('font-family', null).attr('font-size', null);
    ay.selectAll('line').attr('stroke-width', 2);
    ay.selectAll('text').attr('font-size', FS);

    var ax = g.append('g').attr('transform', 'translate(0,' + G_BOT + ')')
        .call(d3.axisBottom(x).tickValues(gseaRankTicks).tickSize(5).tickPadding(10).tickFormat(fmtInt));
    ax.select('.domain').remove();
    ax.attr('font-family', null).attr('font-size', null);
    ax.selectAll('line').attr('stroke-width', 2);
    ax.selectAll('text').attr('font-size', FS);

    g.append('text').attr('x', (o.x0 + o.x1) / 2).attr('y', 1568.5)
        .attr('text-anchor', 'middle').attr('font-size', FS).text('Rank in Ordered Dataset');
    g.append('text').attr('transform', 'translate(' + o.yLabelX + ',' + ((G_TOP + G_MID) / 2) + ') rotate(-90)')
        .attr('text-anchor', 'middle').attr('dy', '0.35em').attr('font-size', FS).text('Enrichment Score');

    var ty = o.title.length === 1 ? [1222.5] : [1206, 1229.6];
    o.title.forEach(function(t, i){
        g.append('text').attr('x', o.titleX).attr('y', ty[i]).attr('dy', '0.35em')
            .attr('text-anchor', 'middle').attr('font-size', FS).text(t);
    });
    o.stats.forEach(function(t, i){
        g.append('text').attr('x', o.statsX).attr('y', 1281 + i * 23).attr('dy', '0.35em')
            .attr('text-anchor', 'middle').attr('font-size', FS).text(t);
    });
    letter(o.letter, o.letterX, 1186.5);
}

drawGseaPanel({
    curve: iCurve, hits: iHits, barBreaks: iBarBreaks, barColors: iBarColors,
    title: iTitle, stats: iStats, x0: 86.5, x1: 380.5,
    esDomain: [-0.48, 0.106], esTicks: [-0.4, -0.3, -0.2, -0.1, 0.0, 0.1], tickPad: 4,
    titleX: 200, statsX: 306.5, yLabelX: 26, letter: 'I', letterX: 39
});
drawGseaPanel({
    curve: jCurve, hits: jHits, barBreaks: jBarBreaks, barColors: jBarColors,
    title: jTitle, stats: jStats, x0: 463.8, x1: 767.8,
    esDomain: [-0.007, 0.49], esTicks: [0.0, 0.1, 0.2, 0.3, 0.4], tickPad: 12,
    titleX: 584.5, statsX: 704, yLabelX: 404, letter: 'J', letterX: 422
});
drawGseaPanel({
    curve: kCurve, hits: kHits, barBreaks: kBarBreaks, barColors: kBarColors,
    title: kTitle, stats: kStats, x0: 837.9, x1: 1156,
    esDomain: [-0.0045, 0.433], esTicks: [0.0, 0.1, 0.2, 0.3, 0.4], tickPad: 9,
    titleX: 974, statsX: 1089, yLabelX: 783.5, letter: 'K', letterX: 813
});
drawGseaPanel({
    curve: lCurve, hits: lHits, barBreaks: lBarBreaks, barColors: lBarColors,
    title: lTitle, stats: lStats, x0: 1228.4, x1: 1546.4,
    esDomain: [-0.06, 0.4846], esTicks: [0.0, 0.1, 0.2, 0.3, 0.4], tickPad: 4,
    titleX: 1361.5, statsX: 1485.5, yLabelX: 1173, letter: 'L', letterX: 1201.5
});

})();
</script>
</body>
</html>
